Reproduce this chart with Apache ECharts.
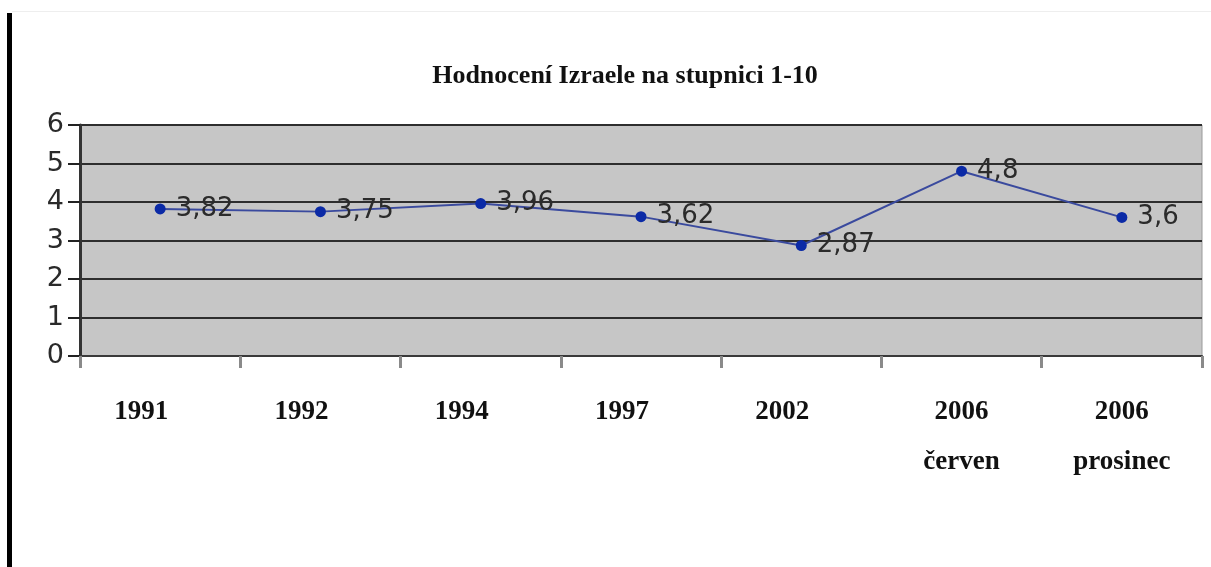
<!DOCTYPE html>
<html>
<head>
<meta charset="utf-8">
<script src="https://cdn.jsdelivr.net/npm/echarts@6/dist/echarts.min.js"></script>
<style>
  html, body { margin: 0; padding: 0; background: #fff; }
  #main { width: 1211px; height: 567px; }
</style>
</head>
<body>
<div id="main"></div>
<script>
var categories = ['1991', '1992', '1994', '1997', '2002', '2006\nčerven', '2006\nprosinec'];
var ratings = [3.82, 3.75, 3.96, 3.62, 2.87, 4.8, 3.6];
var yTicks = [0, 1, 2, 3, 4, 5, 6];

document.addEventListener('DOMContentLoaded', function() {
    var chartDom = document.getElementById('main');
    var myChart = echarts.init(chartDom);
    var option;

    var labelFont = {
        fontFamily: 'Liberation Serif',
        fontWeight: 'bold',
        fontSize: 27,
        color: '#111'
    };

    option = {
        backgroundColor: '#ffffff',
        animation: false,
        title: {
            text: 'Hodnocení Izraele na stupnici 1-10',
            left: 620,
            top: 58,
            textAlign: 'center',
            textStyle: {
                fontFamily: 'Liberation Serif',
                fontWeight: 'bold',
                fontSize: 26,
                color: '#111'
            }
        },
        // levý svislý pruh a horní linka
        graphic: [
            { type: 'rect', shape: { x: 7, y: 13, width: 5, height: 560 }, style: { fill: '#000' } },
            { type: 'rect', shape: { x: 12, y: 11, width: 1199, height: 1 }, style: { fill: '#eeeeee' } }
        ],
        grid: {
            left: 80,
            right: 9,
            top: 125,
            height: 231,
            show: true,
            backgroundColor: '#c6c6c6',
            borderColor: '#9a9a9a',
            borderWidth: 1
        },
        xAxis: {
            type: 'category',
            data: categories,
            boundaryGap: true,
            axisLine: { lineStyle: { color: '#3a3a3a', width: 2 } },
            axisTick: { show: true, length: 12, lineStyle: { color: '#8a8a8a', width: 3 } },
            axisLabel: {
                margin: 31,
                lineHeight: 50,
                fontFamily: 'Liberation Serif',
                fontWeight: 'bold',
                fontSize: 27,
                color: '#111',
                // první popisky jsou v originále mírně posunuté doleva
                formatter: function(v) {
                    return v.indexOf('\n') < 0 ? '{l|' + v + '}' : v;
                },
                rich: {
                    l: Object.assign({ padding: [0, 38, 0, 0], lineHeight: 50 }, labelFont)
                }
            }
        },
        yAxis: {
            type: 'value',
            min: yTicks[0],
            max: yTicks[yTicks.length - 1],
            interval: 1,
            axisLine: { show: true, lineStyle: { color: '#333', width: 3 } },
            axisTick: { show: true, length: 12, lineStyle: { color: '#222', width: 2 } },
            axisLabel: {
                margin: 16,
                fontFamily: 'DejaVu Sans',
                fontSize: 27,
                color: '#2a2a2a'
            },
            splitLine: { lineStyle: { color: '#2e2e2e', width: 2 } }
        },
        series: [
            {
                name: 'Hodnocení',
                type: 'line',
                data: ratings,
                symbol: 'circle',
                symbolSize: 11,
                itemStyle: { color: '#0b2aa6' },
                lineStyle: { color: '#3a4a9e', width: 2 },
                label: {
                    show: true,
                    position: 'right',
                    distance: 10,
                    fontFamily: 'DejaVu Sans',
                    fontSize: 26,
                    color: '#2b2b2b',
                    formatter: function(p) { return String(p.value).replace('.', ','); }
                }
            }
        ]
    };

    option && myChart.setOption(option);
});
</script>
</body>
</html>
